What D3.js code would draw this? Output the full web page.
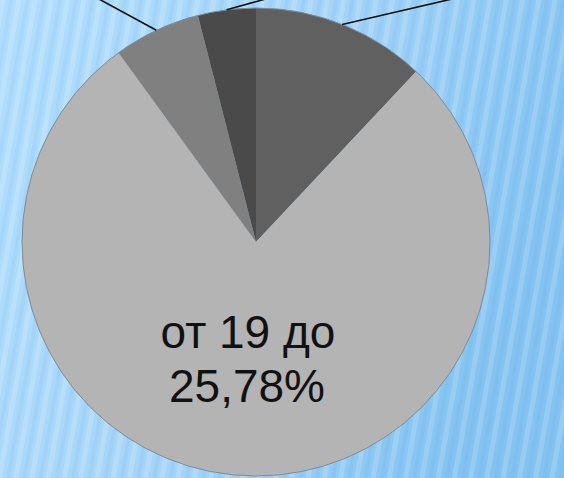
<!DOCTYPE html>
<html>
<head>
<meta charset="utf-8">
<script src="https://cdn.jsdelivr.net/npm/d3@7"></script>
<style>
  body { margin: 0; overflow: hidden; }
  svg { display: block; }
</style>
</head>
<body>
<script>
// age groups, clockwise from 12 o'clock
// (labels of the three small slices sit above the visible frame)
var categories = ["до 18", "от 19 до 25", "от 26 до 35", "старше 35"];
var values = [12, 78, 6, 4];
var colors = ["#606060", "#b4b4b4", "#808080", "#4a4a4a"];

var width = 564, height = 478;
var cx = 256, cy = 242, radius = 234;

var svg = d3.select("body").append("svg")
  .attr("width", width).attr("height", height);

var defs = svg.append("defs");

// background: blue gradient + soft stripes
var grad = defs.append("linearGradient").attr("id", "bg")
  .attr("x1", "0").attr("y1", "0").attr("x2", "1").attr("y2", "0.3");
grad.append("stop").attr("offset", "0").attr("stop-color", "#b2defd");
grad.append("stop").attr("offset", "0.55").attr("stop-color", "#a4d4f8");
grad.append("stop").attr("offset", "1").attr("stop-color", "#84c3f1");

var pat = defs.append("pattern").attr("id", "stripes")
  .attr("width", 16).attr("height", 16)
  .attr("patternUnits", "userSpaceOnUse")
  .attr("patternTransform", "rotate(10)");
pat.append("rect").attr("width", 5).attr("height", 16)
  .attr("fill", "#ffffff").attr("opacity", 0.16);
pat.append("rect").attr("x", 9).attr("width", 4).attr("height", 16)
  .attr("fill", "#3a8fd8").attr("opacity", 0.08);

svg.append("rect").attr("width", width).attr("height", height).attr("fill", "url(#bg)");
svg.append("rect").attr("width", width).attr("height", height).attr("fill", "url(#stripes)");

var pie = d3.pie().sort(null).value(function(d){ return d; });
var arcs = pie(values);
var arc = d3.arc().innerRadius(0).outerRadius(radius);

var g = svg.append("g").attr("transform", "translate(" + cx + "," + cy + ")");

g.selectAll("path.slice")
  .data(arcs).enter().append("path")
  .attr("class", "slice")
  .attr("d", arc)
  .attr("fill", function(d, i){ return colors[i]; })
  .attr("stroke", "none");

// thin outline round the pie
g.append("circle").attr("r", radius)
  .attr("fill", "none").attr("stroke", "#7f8c98").attr("stroke-width", 1);

// leader lines for the small slices, running off the top edge
var leaderDir = { 0: [108, -25], 2: [-57, -31], 3: [43, -12] };
arcs.forEach(function(d, i){
  if (!leaderDir[i]) return;
  var mid = (d.startAngle + d.endAngle) / 2;
  var x0 = radius * Math.sin(mid), y0 = -radius * Math.cos(mid);
  var dir = leaderDir[i];
  var k = 2.5;
  g.append("line")
    .attr("x1", x0).attr("y1", y0)
    .attr("x2", x0 + dir[0] * k).attr("y2", y0 + dir[1] * k)
    .attr("stroke", "#111").attr("stroke-width", 1.6);
});

// label inside the big slice, wrapped after "до"
var big = arcs[1];
var lbl = g.append("text")
  .attr("text-anchor", "middle")
  .attr("font-family", "Liberation Sans, Arial, sans-serif")
  .attr("font-size", 46)
  .attr("fill", "#111");
var words = categories[1].split(" ");
lbl.append("tspan").attr("x", -8).attr("y", 106).text(words.slice(0, 3).join(" "));
lbl.append("tspan").attr("x", -9).attr("y", 160).text(words[3] + "," + values[1] + "%");
</script>
</body>
</html>
